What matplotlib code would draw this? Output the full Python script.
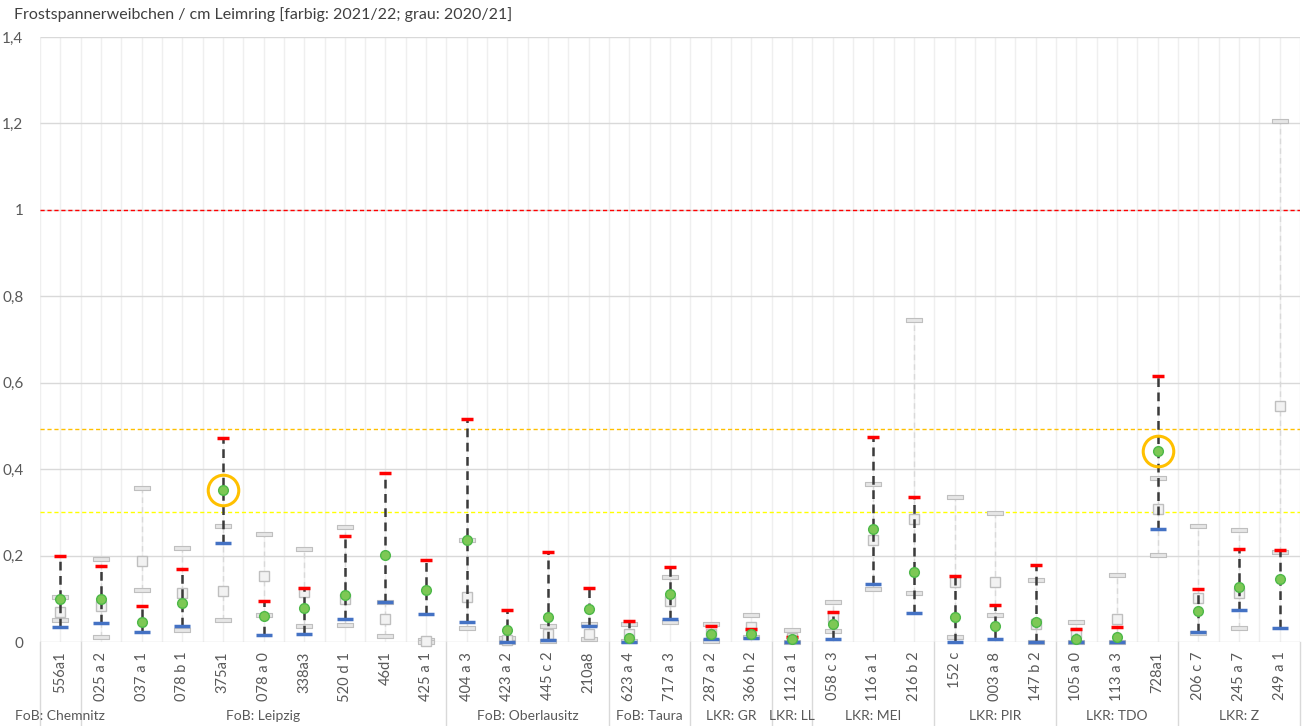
import numpy as np
import matplotlib
matplotlib.use('Agg')
import matplotlib.pyplot as plt
from matplotlib.path import Path
from matplotlib.transforms import blended_transform_factory

plt.rcParams['font.family'] = ['Lato', 'DejaVu Sans']

title = 'Frostspannerweibchen / cm Leimring [farbig: 2021/22; grau: 2020/21]'

labels = ['556a1', '025 a 2', '037 a 1', '078 b 1', '375a1', '078 a 0', '338a3',
          '520 d 1', '46d1', '425 a 1', '404 a 3', '423 a 2', '445 c 2', '210a8',
          '623 a 4', '717 a 3', '287 a 2', '366 h 2', '112 a 1', '058 c 3',
          '116 a 1', '216 b 2', '152 c', '003 a 8', '147 b 2', '105 a 0',
          '113 a 3', '728a1', '206 c 7', '245 a 7', '249 a 1']

group_names = ['FoB: Chemnitz', 'FoB: Leipzig', 'FoB: Oberlausitz', 'FoB: Taura',
               'LKR: GR', 'LKR: LL', 'LKR: MEI', 'LKR: PIR', 'LKR: TDO', 'LKR: Z']
group_sizes = [1, 9, 4, 2, 2, 1, 3, 3, 3, 3]

# 2021/22 (farbig)
mean_21 = [0.099, 0.099, 0.047, 0.090, 0.352, 0.060, 0.079, 0.108, 0.202, 0.121,
           0.235, 0.028, 0.059, 0.077, 0.010, 0.112, 0.018, 0.019, 0.008, 0.041,
           0.262, 0.162, 0.058, 0.038, 0.047, 0.008, 0.012, 0.441, 0.071, 0.127, 0.146]
max_21 = [0.198, 0.175, 0.084, 0.168, 0.472, 0.094, 0.124, 0.246, 0.392, 0.190,
          0.516, 0.075, 0.208, 0.125, 0.048, 0.173, 0.037, 0.029, 0.012, 0.070,
          0.475, 0.335, 0.152, 0.086, 0.178, 0.029, 0.035, 0.616, 0.122, 0.215, 0.214]
min_21 = [0.035, 0.045, 0.024, 0.036, 0.228, 0.017, 0.019, 0.054, 0.093, 0.065,
          0.047, 0.000, 0.005, 0.036, 0.000, 0.054, 0.008, 0.009, 0.000, 0.006,
          0.135, 0.066, 0.000, 0.008, 0.000, 0.001, 0.000, 0.261, 0.022, 0.075, 0.032]

# 2020/21 (grau)
mean_20 = [0.070, 0.083, 0.187, 0.114, 0.118, 0.153, 0.116, 0.100, 0.054, 0.002,
           0.103, 0.004, 0.018, 0.019, 0.019, 0.095, 0.018, 0.035, 0.010, 0.058,
           0.235, 0.285, 0.138, 0.138, 0.041, 0.020, 0.054, 0.308, 0.101, 0.114, 0.546]
max_20 = [0.105, 0.192, 0.356, 0.218, 0.268, 0.250, 0.215, 0.265, 0.092, 0.004,
          0.236, 0.009, 0.038, 0.041, 0.042, 0.151, 0.042, 0.062, 0.028, 0.093,
          0.365, 0.745, 0.335, 0.298, 0.144, 0.047, 0.155, 0.380, 0.268, 0.259, 1.206]
min_20 = [0.050, 0.011, 0.121, 0.028, 0.052, 0.062, 0.038, 0.040, 0.015, 0.000,
          0.032, 0.000, 0.002, 0.008, 0.002, 0.047, 0.002, 0.012, 0.000, 0.025,
          0.123, 0.114, 0.012, 0.062, 0.001, 0.000, 0.000, 0.202, 0.020, 0.032, 0.208]

highlight = ['375a1', '728a1']

thresholds = [1.0, 0.493, 0.3]
threshold_colors = ['#FF0000', '#FFC000', '#FFFF00']

yticks = [0, 0.2, 0.4, 0.6, 0.8, 1.0, 1.2, 1.4]
ytick_labels = ['0', '0,2', '0,4', '0,6', '0,8', '1', '1,2', '1,4']

W, H = 1304, 726
fig = plt.figure(figsize=(W / 100, H / 100), dpi=100)
ax = fig.add_axes([40 / W, (H - 642) / H, 1260 / W, (642 - 37) / H])

x = np.arange(len(labels))
n = len(labels)
ax.set_xlim(-0.5, n - 0.5)
ax.set_ylim(0, 1.4)

# grid
ax.vlines(np.arange(-0.5, n, 0.5), 0, 1.4, color='#EFEFEF', lw=1, zorder=0)
ax.hlines(yticks[1:], -0.5, n - 0.5, color='#D9D9D9', lw=1, zorder=0.5)
for s in ax.spines.values():
    s.set_visible(False)
ax.axhline(0, color='#D9D9D9', lw=1, zorder=0.5)

for val, col in zip(thresholds, threshold_colors):
    ax.axhline(val, color=col, lw=1, ls=(0, (3, 2)), zorder=1)

cap = Path([(-1, -0.2), (1, -0.2), (1, 0.2), (-1, 0.2), (-1, -0.2)],
           [Path.MOVETO, Path.LINETO, Path.LINETO, Path.LINETO, Path.CLOSEPOLY])

# grey series 2020/21
ax.vlines(x, min_20, max_20, color='#D9D9D9', lw=1, ls=(0, (4, 3)), zorder=2)
ax.plot(x, max_20, ls='none', marker=cap, ms=11, mfc='#E6E6E6', mec='#BFBFBF',
        mew=0.8, zorder=3, clip_on=False)
ax.plot(x, min_20, ls='none', marker=cap, ms=11, mfc='#E6E6E6', mec='#BFBFBF',
        mew=0.8, zorder=3, clip_on=False)
ax.plot(x, mean_20, ls='none', marker='s', ms=6.5, mfc='#F2F2F2', mec='#BFBFBF',
        mew=1, zorder=3, clip_on=False)

# coloured series 2021/22
ax.vlines(x, min_21, max_21, color='#3A3A3A', lw=1.8, ls=(0, (3.5, 2.2)), zorder=4)
ax.plot(x, max_21, ls='none', marker='_', ms=9, mec='#FF0000', mew=2.5,
        zorder=5, clip_on=False)
ax.plot(x, min_21, ls='none', marker='_', ms=11, mec='#4472C4', mew=2.5,
        zorder=5, clip_on=False)
ax.plot(x, mean_21, ls='none', marker='o', ms=7, mfc='#7DC855', mec='#4DB848',
        mew=1, zorder=6, clip_on=False)

for lab in highlight:
    i = labels.index(lab)
    ax.plot(x[i], mean_21[i], marker='o', ms=22, mfc='none', mec='#FFC000',
            mew=2.2, zorder=7)

# axes labels
ax.set_yticks(yticks)
ax.set_yticklabels(ytick_labels)
ax.set_xticks(x)
ax.set_xticklabels(labels, rotation=90, va='top')
ax.tick_params(axis='y', length=0, pad=12, labelsize=11, labelcolor='#595959')
ax.tick_params(axis='x', length=0, pad=7, labelsize=10.5, labelcolor='#595959')

# group axis
tr = blended_transform_factory(ax.transData, fig.transFigure)
ybot = (H - 642) / H
bounds = np.concatenate([[0], np.cumsum(group_sizes)])
for b in bounds:
    ax.plot([b - 0.5, b - 0.5], [0, ybot], color='#D9D9D9', lw=1,
            transform=tr, clip_on=False)
for name, lo, hi in zip(group_names, bounds[:-1], bounds[1:]):
    ax.text((lo + hi - 1) / 2, (H - 716) / H, name, transform=tr, ha='center',
            va='center', fontsize=10, color='#595959')

fig.text(14 / W, (H - 15) / H, title, ha='left', va='center', fontsize=11.5,
         color='#404040')

fig.savefig('out.png', dpi=100)
